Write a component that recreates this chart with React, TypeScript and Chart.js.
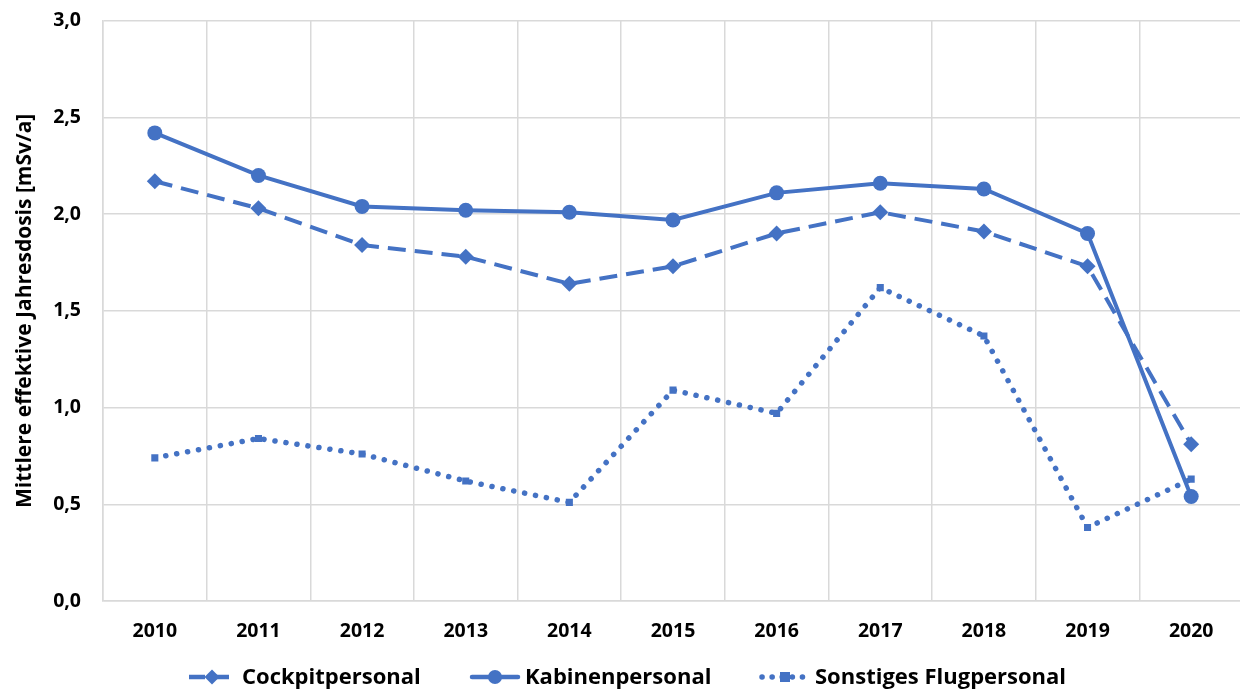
import React, { useEffect, useRef } from "react";
import { Chart, registerables } from "chart.js";

Chart.register(...registerables);

const years = ["2010", "2011", "2012", "2013", "2014", "2015", "2016", "2017", "2018", "2019", "2020"];
const cockpit = [2.17, 2.03, 1.84, 1.78, 1.64, 1.73, 1.9, 2.01, 1.91, 1.73, 0.81];
const kabine = [2.42, 2.2, 2.04, 2.02, 2.01, 1.97, 2.11, 2.16, 2.13, 1.9, 0.54];
const sonstige = [0.74, 0.84, 0.76, 0.62, 0.51, 1.09, 0.97, 1.62, 1.37, 0.38, 0.63];
const seriesNames = ["Cockpitpersonal", "Kabinenpersonal", "Sonstiges Flugpersonal"];
const yTitle = "Mittlere effektive Jahresdosis [mSv/a]";

const BLUE = "#4472C4";
const FONT = "'Open Sans', Lato, sans-serif";
const SHIFT = 13;

function drawMarker(ctx: CanvasRenderingContext2D, style: string, r: number, x: number, y: number) {
  ctx.beginPath();
  if (style === "circle") {
    ctx.arc(x, y, r, 0, Math.PI * 2);
  } else if (style === "rect") {
    ctx.rect(x - r, y - r, 2 * r, 2 * r);
  } else {
    ctx.moveTo(x, y - r);
    ctx.lineTo(x + r, y);
    ctx.lineTo(x, y + r);
    ctx.lineTo(x - r, y);
    ctx.closePath();
  }
  ctx.fill();
}

const legendPlugin = {
  id: "customLegend",
  afterDraw(chart: any) {
    const ctx = chart.ctx;
    const y = 677 + SHIFT;
    const items = [
      { x: 187, text: seriesNames[0], dash: [16, 8], cap: "butt", style: "rectRot", r: 7.5, w: 4.5 },
      { x: 470, text: seriesNames[1], dash: [], cap: "round", style: "circle", r: 7, w: 4.5 },
      { x: 760, text: seriesNames[2], dash: [0.1, 10], cap: "round", style: "rect", r: 5, w: 5.5 },
    ];
    ctx.save();
    for (const it of items) {
      ctx.strokeStyle = BLUE;
      ctx.lineWidth = it.w;
      ctx.setLineDash(it.dash);
      ctx.lineCap = it.cap;
      ctx.beginPath();
      ctx.moveTo(it.x + 2, y);
      ctx.lineTo(it.x + 48, y);
      ctx.stroke();
      ctx.setLineDash([]);
      ctx.fillStyle = BLUE;
      drawMarker(ctx, it.style, it.r, it.x + 25, y);
      ctx.fillStyle = "#000";
      ctx.font = `bold 22px ${FONT}`;
      ctx.textBaseline = "middle";
      ctx.textAlign = "left";
      ctx.fillText(it.text, it.x + 55, y + 1);
    }
    ctx.restore();
  },
};

export default function App() {
  const ref = useRef<HTMLCanvasElement>(null);
  useEffect(() => {
    const chart = new Chart(ref.current!, {
      type: "line",
      data: {
        labels: years,
        datasets: [
          {
            label: seriesNames[0],
            data: cockpit,
            borderColor: BLUE,
            backgroundColor: BLUE,
            borderWidth: 4,
            borderDash: [18, 9],
            pointStyle: "rectRot",
            pointRadius: 8,
            pointBorderWidth: 0,
            tension: 0,
          },
          {
            label: seriesNames[1],
            data: kabine,
            borderColor: BLUE,
            backgroundColor: BLUE,
            borderWidth: 4,
            pointStyle: "circle",
            pointRadius: 7.5,
            pointBorderWidth: 0,
            tension: 0,
          },
          {
            label: seriesNames[2],
            data: sonstige,
            borderColor: BLUE,
            backgroundColor: BLUE,
            borderWidth: 5.5,
            borderDash: [0.1, 11],
            borderCapStyle: "round",
            pointStyle: "rect",
            pointRadius: 5,
            pointBorderWidth: 0,
            tension: 0,
          },
        ],
      },
      options: {
        animation: false,
        responsive: false,
        maintainAspectRatio: false,
        layout: { padding: { top: 0, right: 0, bottom: 47, left: 0 } },
        plugins: {
          legend: { display: false },
          tooltip: { enabled: false },
        },
        scales: {
          x: {
            offset: true,
            grid: { offset: true, color: "#d9d9d9", lineWidth: 1.5, drawTicks: false },
            border: { color: "#d9d9d9", width: 1.5 },
            ticks: { color: "#000", font: { family: FONT, size: 19.5, weight: "bold" }, padding: 19 },
            afterFit: (s: any) => { s.height = 45; },
          },
          y: {
            min: 0,
            max: 3,
            grid: { color: "#d9d9d9", lineWidth: 1.5, drawTicks: false },
            border: { color: "#d9d9d9", width: 1.5 },
            ticks: {
              stepSize: 0.5,
              color: "#000",
              padding: 22,
              font: { family: FONT, size: 19.5, weight: "bold" },
              callback: (v: any) => Number(v).toFixed(1).replace(".", ","),
            },
            title: {
              display: true,
              text: yTitle,
              color: "#000",
              font: { family: FONT, size: 21, weight: "bold" },
              padding: { top: 12, bottom: 0 },
            },
            afterFit: (s: any) => { s.width = 103; },
          },
        },
      },
      plugins: [legendPlugin],
    } as any);
    return () => chart.destroy();
  }, []);
  return (
    <div style={{ position: "absolute", left: 0, top: 0, width: 1240, height: 693, overflow: "hidden", background: "#fff" }}>
      <canvas ref={ref} width={1251} height={693 + SHIFT} style={{ display: "block", position: "absolute", left: 0, top: -SHIFT }} />
    </div>
  );
}
